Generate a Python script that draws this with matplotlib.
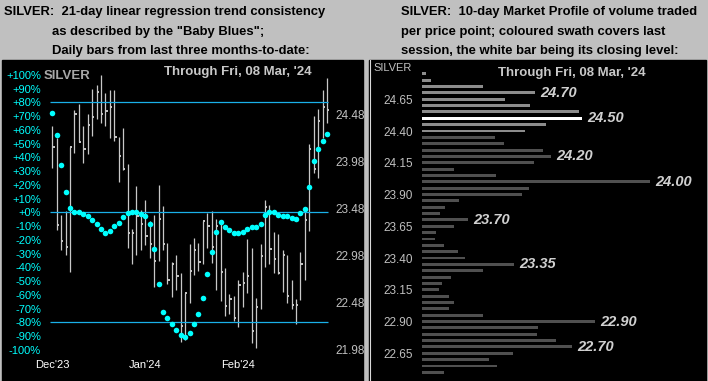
# -*- coding: utf-8 -*-
"""
Silber: 21-Tage Trendkonsistenz ("Baby Blues") mit Tagesbalken
und 10-Tage Market Profile nebeneinander.
"""
import matplotlib
matplotlib.use("Agg")
import matplotlib.pyplot as plt
import numpy as np
from matplotlib.patches import Rectangle
from matplotlib.lines import Line2D

# Tagesbalken der letzten drei Monate (Hoch, Tief, Schluss)
bar_high = [24.36, 24.23, 23.42, 23.46, 24.14, 24.53, 24.60, 24.36, 24.49, 24.76,
            24.80, 24.91, 24.71, 24.75, 24.75, 24.25, 24.34, 23.96, 23.27, 23.72,
            23.47, 23.58, 23.35, 23.42, 23.74, 23.51, 23.12, 22.92, 22.99, 22.80,
            22.59, 23.11, 23.17, 23.12, 23.35, 23.44, 23.46, 23.37, 23.36, 22.85,
            22.58, 22.55, 22.72, 22.81, 23.16, 23.06, 22.53, 23.11, 23.58, 23.52,
            23.23, 23.21, 23.04, 22.99, 22.72, 22.52, 23.02, 23.49, 24.17, 24.47,
            24.54, 24.75, 24.87]
bar_low = [23.92, 23.26, 23.04, 22.99, 22.81, 24.08, 24.19, 23.97, 24.07, 24.26,
           24.44, 24.39, 24.36, 24.24, 24.20, 23.77, 23.90, 23.06, 22.90, 22.99,
           23.04, 23.10, 22.96, 22.65, 22.93, 23.04, 22.68, 22.54, 22.62, 22.06,
           22.09, 22.48, 22.78, 22.82, 22.90, 23.07, 22.91, 22.62, 22.50, 22.34,
           22.36, 22.29, 22.22, 22.44, 22.59, 22.05, 22.00, 22.42, 22.86, 22.90,
           22.80, 22.79, 22.60, 22.48, 22.42, 22.26, 22.51, 22.72, 23.25, 23.86,
           23.81, 24.23, 24.40]
bar_close = [24.14, 23.31, 23.14, 23.08, 24.14, 24.49, 24.19, 24.12, 24.37, 24.46,
             24.72, 24.49, 24.52, 24.56, 24.25, 24.04, 23.91, 23.22, 23.22, 23.41,
             23.32, 23.19, 23.11, 22.93, 23.37, 23.11, 22.72, 22.90, 22.77, 22.23,
             22.59, 22.82, 23.04, 22.92, 23.35, 23.30, 23.08, 23.30, 22.81, 22.45,
             22.52, 22.32, 22.67, 22.69, 22.77, 22.18, 22.44, 22.98, 23.50, 23.05,
             22.95, 22.80, 22.99, 22.55, 22.46, 22.46, 22.90, 23.36, 24.12, 23.91,
             24.42, 24.56, 24.53]

# Baby Blues: Trendkonsistenz in Prozent
baby_blues = [72.2, 56.0, 34.2, 14.5, 3.1, 0.2, 0.2, -1.5, -2.7, -5.8,
              -8.7, -12.4, -15.3, -13.8, -10.2, -8.0, -3.6, -0.5, 0.2, 0.2,
              -1.0, -2.7, -8.7, -26.9, -51.9, -72.7, -77.1, -81.2, -85.8, -89.5,
              -90.7, -87.8, -81.2, -74.0, -62.3, -45.1, -29.1, -14.5, -7.3, -10.9,
              -13.1, -15.3, -15.3, -14.5, -12.4, -10.9, -10.9, -8.7, -2.0, 0.2,
              0.2, -2.0, -2.7, -2.7, -4.4, -5.1, -0.5, 2.4, 18.2, 37.3,
              45.8, 51.6, 56.9]

month_labels = ["Dec'23", "Jan'24", "Feb'24"]
month_pos = [0, 21, 42]
pct_ticks = list(range(100, -101, -10))
price_ticks = [24.48, 23.98, 23.48, 22.98, 22.48, 21.98]
trend_levels = [80, 0, -80]

# Market Profile: Preisstufen und Volumen (relative Einheiten)
profile_prices = [24.85, 24.80, 24.75, 24.70, 24.65, 24.60, 24.55, 24.50, 24.45, 24.40,
                  24.35, 24.30, 24.25, 24.20, 24.15, 24.10, 24.05, 24.00, 23.95, 23.90,
                  23.85, 23.80, 23.75, 23.70, 23.65, 23.60, 23.55, 23.50, 23.45, 23.40,
                  23.35, 23.30, 23.25, 23.20, 23.15, 23.10, 23.05, 23.00, 22.95, 22.90,
                  22.85, 22.80, 22.75, 22.70, 22.65, 22.60, 22.55, 22.50]
profile_volume = [4, 9, 61, 113, 83, 108, 157, 160, 124, 103,
                  73, 82, 121, 129, 112, 32, 74, 228, 107, 100,
                  37, 23, 18, 46, 32, 14, 13, 22, 36, 43,
                  92, 61, 29, 20, 17, 27, 32, 27, 61, 173,
                  116, 115, 134, 150, 91, 67, 75, 22]
profile_ticks = [24.65, 24.40, 24.15, 23.90, 23.65, 23.40, 23.15, 22.90, 22.65]
peak_labels = [24.70, 24.50, 24.20, 24.00, 23.70, 23.35, 22.90, 22.70]
session_low = 24.40
session_high = 24.85
session_close = 24.50

left_title = ['SILVER:  21-day linear regression trend consistency',
              'as described by the "Baby Blues";',
              'Daily bars from last three months-to-date:']
right_title = ['SILVER:  10-day Market Profile of volume traded',
               'per price point; coloured swath covers last',
               'session, the white bar being its closing level:']
date_text = "Through Fri, 08 Mar, '24"

W, H = 708, 381


# Pixel -> Figurenkoordinaten
def fx(px):
    return px / W


def fy(py):
    return 1 - py / H


def panel(fig, x0, x1, y0=60, y1=381):
    fig.add_artist(Rectangle((fx(x0), fy(y1)), fx(x1) - fx(x0), fy(y0) - fy(y1),
                             transform=fig.transFigure, color='black', zorder=-10))


def clean(ax):
    ax.set_facecolor('none')
    for s in ax.spines.values():
        s.set_visible(False)
    ax.set_xticks([])


def main():
    plt.rcParams['font.family'] = ['Liberation Sans', 'DejaVu Sans']
    fig = plt.figure(figsize=(W / 100, H / 100), dpi=100, facecolor='#C0C0C0')

    # Titel
    for i, line in enumerate(left_title):
        fig.text(fx(4 if i == 0 else 52), fy(15 + 19.7 * i), line, va='baseline',
                 fontsize=9.4, fontweight='bold', color='black')
    for i, line in enumerate(right_title):
        fig.text(fx(401), fy(15 + 19.7 * i), line, va='baseline',
                 fontsize=9.4, fontweight='bold', color='black')

    # ---- Linkes Panel: Tagesbalken + Baby Blues ----
    panel(fig, 2, 363)
    ax = fig.add_axes([fx(46), 0, fx(332) - fx(46), fy(60)])
    clean(ax)
    ax2 = ax.twinx()
    clean(ax2)

    x = np.arange(len(bar_close))
    ax.set_xlim(-1.42, 63.14)
    ax.set_ylim(21.65, 25.065)
    ax.vlines(x, bar_low, bar_high, color='#C8C8C8', lw=0.9)
    ax.hlines(bar_close, x, x + 0.5, color='#C8C8C8', lw=1.4)
    ax.yaxis.tick_right()
    ax.set_yticks(price_ticks)
    ax.set_yticklabels([f"{p:.2f}" for p in price_ticks])
    ax.tick_params(axis='y', length=0, pad=2.7, labelsize=8.5, labelcolor='#C0C0C0')
    for pos, lab in zip(month_pos, month_labels):
        ax.text(pos, 0.05, lab, transform=ax.get_xaxis_transform(), ha='center',
                va='center', fontsize=8, color='white')

    ax2.set_ylim(-122.69, 110.76)
    ax2.yaxis.tick_left()
    ax2.set_yticks(pct_ticks)
    ax2.set_yticklabels([f"{t:+d}%" for t in pct_ticks])
    ax2.tick_params(axis='y', length=0, pad=3.6, labelsize=8, labelcolor='#00FFFF')
    ax2.hlines(trend_levels, -0.5, 62.3, color='#1AB0E8', lw=0.9)
    ax2.plot(x, baby_blues, 'o', ms=4, mew=0, color='#00FFFF')

    fig.text(fx(44), fy(76), 'SILVER', va='center', fontsize=9.5,
             fontweight='bold', color='#A8A8A8')
    fig.text(fx(164), fy(72.3), date_text, va='center', fontsize=9.5,
             fontweight='bold', color='#C8C8C8')

    # ---- Rechtes Panel: Market Profile ----
    panel(fig, 369, 706)
    fig.add_artist(Line2D([fx(369.5)] * 2, [fy(60), fy(381)], transform=fig.transFigure,
                          color='#D8D8D8', lw=0.8))
    ax3 = fig.add_axes([fx(422.3), 0, fx(706) - fx(422.3), fy(60)])
    clean(ax3)
    ax3.set_xlim(0, 283.7)
    ax3.set_ylim(22.432, 24.959)
    colors = []
    for p in profile_prices:
        if np.isclose(p, session_close):
            colors.append('white')
        elif session_low - 1e-6 <= p <= session_high + 1e-6:
            colors.append('#8C8C8C')
        else:
            colors.append('#505050')
    ax3.barh(profile_prices, profile_volume, height=0.023, color=colors)
    ax3.set_yticks(profile_ticks)
    ax3.set_yticklabels([f"{p:.2f}" for p in profile_ticks])
    ax3.tick_params(axis='y', length=0, pad=6.7, labelsize=8.5, labelcolor='#C0C0C0')
    for p in peak_labels:
        v = profile_volume[int(np.argmin(np.abs(np.array(profile_prices) - p)))]
        ax3.text(v + 5, p, f"{p:.2f}", va='center', fontsize=10.5, fontweight='bold',
                 style='italic', color='#D0D0D0')

    fig.text(fx(412), fy(68), 'SILVER', ha='right', va='center', fontsize=8,
             color='#C0C0C0')
    fig.text(fx(498), fy(73), date_text, va='center', fontsize=9.5,
             fontweight='bold', color='#C8C8C8')

    fig.savefig('out.png', dpi=100, facecolor=fig.get_facecolor())


if __name__ == "__main__":
    main()
